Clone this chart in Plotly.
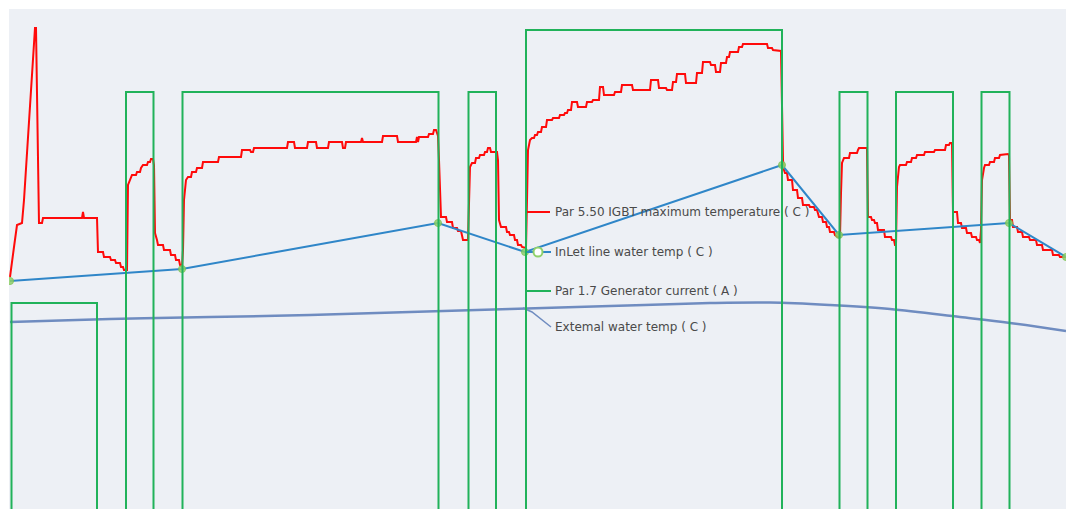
import plotly.graph_objects as go

# ---- time axis (minutes) -------------------------------------------------
# IGBT maximum temperature (°C), sampled as a stepped trace
igbt_t = [
    0.0, 0.2, 0.4, 0.7, 1.2, 1.4, 1.7, 2.0, 2.2, 2.4, 2.5, 2.6, 2.7, 2.8, 2.9, 3.2, 3.3,
    7.2, 7.3, 7.4, 8.7, 8.8, 9.3, 9.4, 10.0, 10.1, 10.5, 10.6, 11.0, 11.1, 11.3, 11.4,
    11.7, 11.8, 12.0, 12.2, 12.6, 12.7, 13.0, 13.1, 13.3, 13.7, 13.8, 14.0, 14.1, 14.3,
    14.4, 14.5, 14.7, 14.8, 15.3, 15.4, 16.0, 16.1, 16.5, 16.6, 16.9, 17.0, 17.2,
    17.3, 17.4, 17.6, 17.8, 18.1, 18.2, 18.6, 18.7, 19.2, 19.3, 20.8, 20.9, 23.1, 23.2,
    24.0, 24.1, 24.3, 24.4, 27.7, 27.8, 28.4, 28.5, 29.7, 29.8, 30.6, 30.7, 31.8, 31.9,
    33.2, 33.3, 33.5, 33.6, 35.1, 35.2, 35.3, 37.2, 37.3, 38.7, 38.8, 40.6, 40.7, 40.8,
    40.9, 41.8, 41.9, 42.3, 42.4, 42.6, 42.7, 42.8, 42.9, 43.0, 43.1, 43.6, 43.7, 44.2,
    44.3, 44.7, 44.8, 45.1, 45.2, 45.3, 45.8,
    45.9, 46.0, 46.2, 46.5, 46.6, 46.9, 47.0, 47.4, 47.5, 47.7, 47.8, 48.0, 48.1, 48.7,
    48.8, 48.9, 49.1, 49.6, 49.7, 49.9, 50.0, 50.4, 50.5, 50.7, 50.8, 51.1, 51.2, 51.6,
    51.7, 51.8, 52.0, 52.2, 52.4, 52.5, 52.7, 52.8, 53.1, 53.2, 53.6, 53.7, 54.2, 54.3,
    54.9, 55.0, 55.4, 55.5, 55.7, 55.8, 56.1, 56.2, 56.7, 56.8, 57.6, 57.7, 58.2, 58.3,
    58.9, 59.0, 59.3, 59.4, 60.4, 60.5, 61.1, 61.2, 62.2, 62.3, 64.0, 64.1, 64.8, 64.9,
    65.6, 65.7, 66.2, 66.3, 66.6, 66.7, 67.5, 67.6, 68.6, 68.7, 69.2, 69.3, 70.0, 70.1,
    70.5, 70.6, 71.0, 71.1, 71.6, 71.7, 71.9, 72.0, 72.8, 72.9, 73.2, 73.3, 75.7, 75.8,
    76.2, 76.3, 77.1, 77.2, 77.3,
    77.4, 77.5, 77.7, 77.8, 78.2, 78.3, 78.7, 78.8, 79.2, 79.3, 79.9, 80.0, 80.4, 80.5,
    80.7, 80.8, 80.9, 81.2, 81.3, 81.6, 81.7, 81.9, 82.0, 82.4, 82.5, 82.8, 83.0,
    83.1, 83.2, 83.4, 83.9, 84.0, 84.7, 84.8, 84.9, 85.7, 85.8, 86.1, 86.2, 86.4, 86.5,
    86.7, 86.8, 87.4, 87.5, 88.1, 88.2, 88.4, 88.5, 88.6,
    88.7, 88.9, 89.0, 89.6, 89.7, 90.1, 90.2, 90.6, 90.7, 91.4, 91.5, 92.4, 92.5, 93.5,
    93.6, 93.9, 94.0, 94.2, 94.3, 94.7, 94.8, 95.1, 95.2, 95.6, 95.7, 96.1, 96.2, 96.6,
    96.7, 96.9, 97.0,
    97.1, 97.2, 97.4, 97.5, 97.9, 98.0, 98.4, 98.5, 98.9, 99.0, 99.8, 99.9, 100.0, 100.2,
    100.3, 100.7, 100.8, 101.2, 101.3, 101.9, 102.0, 102.6, 102.7, 103.2, 103.3, 104.2,
    104.3, 104.9, 105.0, 105.6,
]
igbt_temp = [
    32.3, 34.0, 35.3, 37.5, 37.7, 40.0, 45.0, 50.0, 52.5, 56.0, 57.2, 57.2, 52.0, 45.0, 37.7, 37.7, 38.2,
    38.2, 38.8, 38.2, 38.2, 34.8, 34.8, 34.3, 34.3, 34.0, 34.0, 33.7, 33.7, 33.3, 33.3, 33.0,
    33.0, 41.5, 42.0, 42.5, 42.5, 42.8, 42.8, 43.2, 43.5, 43.5, 43.8, 43.8, 44.1, 44.1,
    43.5, 36.7, 36.0, 35.5, 35.5, 35.0, 35.0, 34.5, 34.5, 34.0, 34.0, 33.5, 33.3,
    35.0, 40.0, 42.0, 42.3, 42.3, 42.8, 42.8, 43.2, 43.2, 43.8, 43.8, 44.3, 44.3, 45.0,
    45.0, 44.8, 44.8, 45.2, 45.2, 45.8, 45.8, 45.2, 45.2, 45.8, 45.8, 45.2, 45.2, 45.8,
    45.8, 45.2, 45.2, 45.8, 45.8, 46.2, 45.8, 45.8, 46.4, 46.4, 45.8, 45.8, 46.3, 45.8,
    46.3, 46.3, 46.6, 46.6, 47.0, 47.0, 46.6, 46.4, 44.0, 39.5, 38.3, 38.3, 37.8, 37.8,
    37.2, 37.2, 36.9, 36.9, 36.2, 36.0, 36.0,
    40.0, 43.3, 43.7, 43.7, 44.2, 44.2, 44.5, 44.5, 44.8, 44.8, 45.2, 45.2, 44.8, 44.8,
    44.0, 38.0, 37.3, 37.3, 36.8, 36.8, 36.5, 36.5, 36.0, 36.0, 35.5, 35.5, 35.3, 35.2,
    40.0, 45.0, 46.0, 46.2, 46.2, 46.5, 46.5, 46.8, 46.8, 47.3, 47.3, 48.0, 48.0, 48.2,
    48.2, 48.5, 48.5, 48.7, 48.7, 49.0, 49.0, 49.8, 49.8, 49.3, 49.3, 49.8, 49.8, 50.0,
    50.0, 51.3, 51.3, 50.5, 50.5, 50.8, 50.8, 51.5, 51.5, 51.0, 51.0, 52.0, 52.0, 51.2,
    51.2, 51.0, 51.0, 51.8, 51.8, 52.6, 52.6, 51.7, 51.7, 52.7, 52.7, 53.8, 53.8, 53.5,
    53.5, 52.8, 52.8, 53.7, 53.7, 54.3, 54.3, 54.8, 54.8, 55.3, 55.3, 55.6, 55.6, 55.2,
    55.2, 55.0, 54.9, 50.0, 44.0,
    43.0, 42.7, 42.7, 42.0, 42.0, 41.0, 41.0, 40.2, 40.2, 39.5, 39.5, 39.3, 39.3, 39.0,
    39.0, 38.7, 38.3, 38.3, 37.8, 37.8, 37.3, 37.3, 36.8, 36.8, 36.5, 36.3, 36.3,
    40.7, 43.7, 44.2, 44.2, 44.7, 44.7, 45.0, 45.2, 45.2, 38.3, 38.3, 38.0, 38.0, 37.7,
    37.7, 37.0, 37.0, 36.3, 36.3, 36.0, 36.0, 35.5, 35.5,
    41.3, 43.3, 43.5, 43.5, 43.8, 43.8, 44.2, 44.2, 44.5, 44.5, 44.8, 44.8, 45.0, 45.0,
    45.5, 45.5, 45.7, 45.7, 38.8, 38.8, 37.7, 37.7, 37.2, 37.2, 36.7, 36.7, 36.3, 36.3,
    36.0, 36.0, 35.7,
    37.0, 42.0, 43.2, 43.5, 43.5, 43.8, 43.8, 44.2, 44.2, 44.5, 44.6, 44.5, 38.0, 38.0,
    37.3, 37.3, 36.8, 36.8, 36.3, 36.3, 36.0, 36.0, 35.5, 35.5, 35.0, 35.0,
    34.5, 34.5, 34.3, 34.3,
]

# Inlet line water temperature (°C), one reading per run change
inlet_t = [0.0, 17.2, 42.8, 51.5, 77.2, 82.9, 99.9, 105.6]
inlet_temp = [31.9, 33.1, 37.7, 34.8, 43.5, 36.5, 37.7, 34.3]

# External water temperature (°C)
ext_t = [0.0, 10.0, 20.0, 30.0, 40.0, 50.0, 60.0, 70.0, 76.0, 82.0, 88.0, 95.0, 100.0, 105.6]
ext_temp = [27.8, 28.1, 28.3, 28.5, 28.8, 29.1, 29.4, 29.7, 29.75, 29.5, 29.1, 28.3, 27.7, 26.9]

# Generator current (A), held until the next switching instant
gen_t = [0.0, 0.15, 8.7, 11.6, 14.35, 17.25, 42.85, 45.85, 48.6, 51.6, 77.2,
         82.95, 85.75, 88.6, 94.3, 97.15, 99.95, 105.6]
gen_current = [0, 226, 0, 437, 0, 437, 0, 437, 0, 499, 0, 437, 0, 437, 0, 437, 0, 0]

labels = [
    "Par 5.50 IGBT maximum temperature ( C )",
    "InLet line water temp ( C )",
    "Par 1.7 Generator current ( A )",
    "Extemal water temp ( C )",
]

RED = "#ff0a0a"
GREEN = "#21b25a"
BLUE = "#2f86c8"
SLATE = "#6f8cc0"
MARK = "#8fd16a"
TXT = "#4a4a4a"

fig = go.Figure()

fig.add_trace(go.Scatter(x=gen_t, y=gen_current, yaxis="y2", mode="lines",
                         line=dict(color=GREEN, width=2, shape="hv"),
                         hoverinfo="skip"))
fig.add_trace(go.Scatter(x=igbt_t, y=igbt_temp, mode="lines",
                         line=dict(color=RED, width=2), hoverinfo="skip"))
fig.add_trace(go.Scatter(x=ext_t, y=ext_temp, mode="lines",
                         line=dict(color=SLATE, width=2.5, shape="spline", smoothing=1.0),
                         hoverinfo="skip"))
fig.add_trace(go.Scatter(x=inlet_t, y=inlet_temp, mode="lines+markers",
                         line=dict(color=BLUE, width=2),
                         marker=dict(size=7, color=MARK, opacity=0.85,
                                     line=dict(color="#7cc24f", width=1)),
                         hoverinfo="skip"))

# series labels with short leader lines, placed around t = 52 min
lab_x = 54.3
lead_red_y = 38.8
lead_inlet_y = inlet_temp[3]
lead_gen_y = 30.9
lead_ext_y = 27.3

fig.add_trace(go.Scatter(x=[51.7, 54.0], y=[lead_red_y, lead_red_y], mode="lines",
                         line=dict(color=RED, width=2), hoverinfo="skip"))
fig.add_trace(go.Scatter(x=[inlet_t[3], 54.1], y=[lead_inlet_y, lead_inlet_y], mode="lines",
                         line=dict(color=BLUE, width=2), hoverinfo="skip"))
fig.add_trace(go.Scatter(x=[52.8], y=[lead_inlet_y], mode="markers",
                         marker=dict(size=9, color="white", line=dict(color=MARK, width=2)),
                         hoverinfo="skip"))
fig.add_trace(go.Scatter(x=[51.6, 54.1], y=[lead_gen_y, lead_gen_y], mode="lines",
                         line=dict(color=GREEN, width=2), hoverinfo="skip"))
fig.add_trace(go.Scatter(x=[51.3, 52.2, 54.1], y=[29.2, 28.8, lead_ext_y], mode="lines",
                         line=dict(color=SLATE, width=1.5), hoverinfo="skip"))

for text, yv in zip(labels, [lead_red_y, lead_inlet_y, lead_gen_y, lead_ext_y]):
    fig.add_annotation(x=lab_x, y=yv, xref="x", yref="y", text=text, showarrow=False,
                       xanchor="left", yanchor="middle",
                       font=dict(family="DejaVu Sans", size=12, color=TXT))

fig.update_layout(
    width=1066, height=509,
    margin=dict(l=9, r=0, t=9, b=0),
    paper_bgcolor="white",
    plot_bgcolor="#edf0f5",
    showlegend=False,
    xaxis=dict(range=[-0.1, 105.6], visible=False),
    yaxis=dict(range=[9.1, 59.1], visible=False),
    yaxis2=dict(range=[20, 520], overlaying="y", visible=False),
)

fig.write_html("out.html")
